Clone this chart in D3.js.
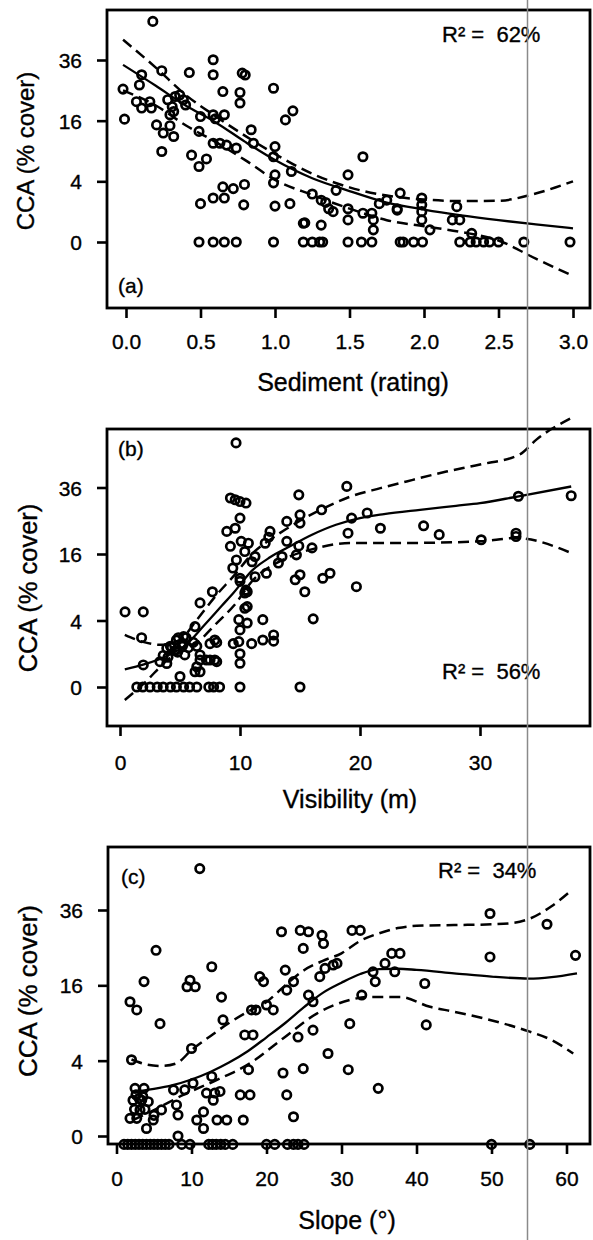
<!DOCTYPE html>
<html><head><meta charset="utf-8">
<script src="https://cdn.jsdelivr.net/npm/d3@7"></script>
<style>
html,body{margin:0;padding:0;background:#fff;}
svg{display:block;font-family:"Liberation Sans",Arial,Helvetica,sans-serif;}
text{white-space:pre;fill:#000;stroke:#000;stroke-width:0.35px;}
</style></head><body>
<svg id="chart" width="593" height="1240"></svg>
<script>
// ---------- DATA ----------
const yTickValues = [0, 4, 16, 36];          // CCA (% cover), square-root axis
const xTicksA = [0, 0.5, 1, 1.5, 2, 2.5, 3];
const xTicksB = [0, 10, 20, 30];
const xTicksC = [0, 10, 20, 30, 40, 50, 60];
const r2Labels = ["R\u00b2 =  62%", "R\u00b2 =  56%", "R\u00b2 =  34%"];
const panelLabels = ["(a)", "(b)", "(c)"];
const xTitles = ["Sediment (rating)", "Visibility (m)", "Slope (\u00b0)"];
const yTitle = "CCA (% cover)";

// Panel (a): sediment rating vs CCA % cover
const sedimentA = [0.18,-0.02,-0.01,0.09,0.105,0.24,0.07,0.105,0.16,0.17,0.205,0.25,0.24,0.295,0.32,0.28,0.31,0.33,0.36,0.385,0.295,0.32,0.4,0.425,0.5,0.49,0.44,0.49,0.54,0.5,0.585,0.585,0.65,0.585,0.6,0.66,0.585,0.63,0.675,0.74,0.585,0.66,0.65,0.72,0.795,0.79,0.78,0.8,0.765,0.765,0.84,0.855,0.99,1.0,0.99,1.0,0.99,1.0,1.1,1.07,1.12,1.11,1.25,1.19,1.2,1.31,1.34,1.31,1.36,1.39,1.41,1.49,1.49,1.49,1.59,1.59,1.66,1.66,1.65,1.70,1.75,1.82,1.84,1.82,1.985,1.985,1.985,1.985,2.04,2.22,2.19,2.24,2.32,
  0.49,0.585,0.66,0.74,0.99,1.19,1.25,1.30,1.32,1.49,1.58,1.65,1.84,1.86,1.93,1.99,2.24,2.31,2.35,2.40,2.44,2.50,2.67,2.98];
const coverA = [52.9,25.4,16.4,26.8,30.4,31.9,21.4,19.5,21.4,19.5,14.9,12.9,8.9,14.7,12.1,22,19.9,23,23.5,22,17.6,18.5,20.4,31.2,17.1,13.3,8.2,6.2,7.5,1.6,36.1,30.4,24.6,17.6,16.5,17.6,10.6,10.6,10.2,9.6,2.1,2.1,3.3,3.1,3.6,1.5,31,30.3,24.3,21,13.7,10.6,25.7,9.9,7.9,4.9,3.8,1.4,1.6,16.2,18.7,5.4,2.5,0.38,0.4,1.9,1.7,0.31,1.2,1.0,2.9,4.9,1.2,0.53,7.9,0.9,0.53,0.16,0.9,1.6,1.9,1.2,2.6,1.1,2.1,1.5,1.0,0.53,0.16,1.36,0.53,0.53,0.08,
  0,0,0,0,0,0,0,0,0,0,0,0,0,0,0,0,0,0,0,0,0,0,0,0];
// fitted curve and confidence band, in sqrt(% cover) units
const fitXA   = [-0.02,0.2,0.4,0.6,0.8,1.0,1.25,1.5,1.75,2.0,2.25,2.5,2.75,3.0];
const fitA    = [5.84,5.15,4.5,3.95,3.3,2.7,2.1,1.68,1.3,1.07,0.88,0.72,0.58,0.45];
const upperA  = [6.67,5.75,4.85,4.15,3.5,2.9,2.25,1.8,1.53,1.4,1.35,1.36,1.6,2.0];
const lowerA  = [5.0,4.5,3.85,3.3,2.7,2.05,1.55,1.1,0.72,0.52,0.33,0.05,-0.55,-1.12];

// Panel (b): visibility (m) vs CCA % cover
const visibilityB = [0.42,1.94,1.8,1.94,
  1.4,1.9,2.5,3.1,3.6,4.2,4.7,5.3,5.8,6.4,7.4,7.8,8.3,10,15,
  5.0,3.33,3.9,4.2,4.6,4.86,5.28,5.4,5.5,6.25,6.25,6.67,6.67,6.67,7.7,8.06,8.06,7.5,7.5,9.44,9.9,10,9.9,10,10,10.6,10.6,10.5,10,10.97,11.9,11.9,12.8,12.8,8.9,9.6,9.2,9.4,9.2,9.6,10,10.5,9.67,10,10.1,10.4,10.7,11.25,11,9.7,10,11.25,10.6,12.1,12.5,12.4,12.2,13.2,13.5,13.9,13.9,14.6,15,14.7,14.9,15,15,14.9,15.4,16,16.1,16.9,17.5,16.8,18.9,19,19.3,19.7,20.6,21.7,25.3,26.6,30.1,33,33,33.2,37.6,
  3.6,4.0,4.3,4.8,5.2,5.7,3.9,6.1,4.7,5.3,6.4,6.67,6.4,7.2,7.9,7.9,10.4,10.4];
const coverB = [5.1,5.1,2.2,0.44,
  0,0,0,0,0,0,0,0,0,0,0,0,0,0,0,
  0.1,0.58,1.36,1.5,1.2,2.2,1.7,0.93,2.2,3.3,0.21,0.66,0.21,6.4,8.2,1.8,0.58,1.7,0.66,1.7,4.1,2.95,1.86,1.0,0.51,3.7,5.85,8.5,10.1,1.7,4.1,2.0,2.45,1.9,21.9,22.8,17.9,12.8,32.3,31.7,31.1,30.6,53.9,25.8,19.2,16.6,18.7,15.4,14.2,14.6,10.7,11,8.2,18.7,21.9,20.3,11.7,13.9,15.4,19.2,24.8,10.4,11.4,15.8,18,26.8,24.3,33.4,8.2,17.5,4.2,10.7,11.7,28.4,36.4,21.4,25.8,9.1,27.4,22.8,23.5,21,19.6,21.4,20.5,32.9,33.1,
  0.9,0.8,1.4,1.1,1.5,1.4,0.5,1.8,2.0,2.3,1.5,0.93,0.37,0.66,0.66,2.0,8.0,5.6];
const fitXB   = [0.4,2,4,5.5,7,8.5,9.5,11,12.5,14,16,18,20,22,25,28,30,33,37.6];
const fitB    = [0.53,0.68,0.95,1.27,1.85,2.45,2.85,3.5,3.9,4.2,4.58,4.88,5.08,5.2,5.33,5.45,5.53,5.72,6.03];
const bandXBu = [0.4,2,3.3,5,6.4,8,9.5,11,13,15,17,19,21.7,24.4,27.2,30,33.3,34.7,37.6];
const upperB  = [1.57,1.35,1.27,1.42,2.02,2.75,3.35,4.0,4.55,5.0,5.38,5.7,5.98,6.23,6.48,6.69,6.99,7.44,8.09];
const bandXBl = [0.4,2,4,6.7,8,9.5,11,13.6,16.4,19.2,23.3,30,33,37.6];
const lowerB  = [-0.39,0.11,0.83,1.42,1.9,2.45,3.18,3.83,4.18,4.33,4.33,4.38,4.48,4.03];

// Panel (c): slope (degrees) vs CCA % cover
const slopeC = [11.1,1.8,2.7,3.67,5.27,5.8,2.0,2.47,3.67,3.36,4.24,3.13,2.7,4.0,4.9,6.0,7.6,8.0,8.2,9.1,10.2,10.0,9.4,10.5,9.8,12.7,14.0,14.2,12.7,12.0,13.1,13.8,12.9,11.6,13.4,14.7,16.9,10.7,11.6,16.5,17.8,17.6,17.1,18.2,18.0,18.6,19.1,19.6,20,20.9,22,22.5,22.7,23.6,24.5,25.6,24.9,22.2,22.7,23.6,24.2,24.9,25.6,26.2,26.2,27.4,27.6,27.1,27.8,28.9,29.4,28.2,30.9,31.1,31.4,32.5,32.7,34.2,34.5,34.9,35.8,36.7,37.8,37.1,49.8,49.8,57.4,61.2,41.1,41.3,
  2.2,2.6,3.0,3.5,2.4,3.8,5.0,1.8,8.2,
  1.0,1.5,2.0,2.5,3.0,3.5,4.0,4.5,5.0,5.5,6.0,6.5,7.0,8.7,9.8,12.3,12.8,13.3,13.9,14.5,15.5,20.0,21.1,22.8,23.6,24.2,25.0,50.0,55.1];
const coverC = [50.4,12.7,11.2,16.8,24.3,8.9,4.1,1.6,1.6,0.9,0.83,0.48,0.22,0.04,0.18,0.48,1.5,0.68,0.31,1.5,1.96,5.4,15.7,15.7,17.1,20.2,13.6,9.5,2.5,1.3,1.3,1.4,0.9,0.41,0.18,0.18,0.18,0.18,0.04,1.19,1.19,3.1,7.2,7.2,11.2,11.2,17.9,16.8,12.1,11.2,29.4,19.4,15,16.8,29.8,29.4,24.8,2.8,1.19,0.26,6.9,3.2,14,12.7,7.9,28.4,26.1,17.9,19.8,20.6,21,4.8,3.1,8.9,29.8,29.8,14,19,16.8,1.6,21,23.5,23.5,19,34.9,22.6,31.6,23,16.4,8.7,
  0.9,1.2,1.0,1.1,0.5,0.5,0.3,0.22,0,
  -0.05,-0.05,-0.05,-0.05,-0.05,-0.05,-0.05,-0.05,-0.05,-0.05,-0.05,-0.05,-0.05,-0.05,-0.05,-0.05,-0.05,-0.05,-0.05,-0.05,-0.05,-0.05,-0.05,-0.05,-0.05,-0.05,-0.05,-0.05,-0.05];
const fitXC   = [2.5,5,7.5,10,12.5,15,17.5,20,22.5,25,27.5,30,32.5,35,37.5,40,45,50,55,58,61.4];
const fitC    = [1.18,1.25,1.35,1.5,1.7,1.95,2.25,2.62,3.0,3.42,3.8,4.07,4.3,4.43,4.44,4.41,4.32,4.23,4.18,4.22,4.32];
const bandXCu = [2,4,6,8,10,12.5,15,17.5,20,22.5,25,27.5,30,32.5,35,37.5,40,45,50,53,55.1,58,60.7];
const upperC  = [2.03,1.9,1.86,1.93,2.28,2.65,3.0,3.3,3.56,4.0,4.4,4.65,4.85,5.18,5.38,5.52,5.58,5.6,5.62,5.66,5.77,6.1,6.53];
const bandXCl = [2.2,5.4,8.9,13.4,17.8,22.2,26.7,31.1,33.4,37.8,41.8,45,49.8,55.1,58,60.9];
const lowerC  = [0.42,0.73,1.09,1.49,1.93,2.59,3.25,3.61,3.69,3.69,3.43,3.3,3.08,2.77,2.55,2.19];

// ---------- LAYOUT ----------
const panels = [
  {x: sedimentA, y: coverA, xTicks: xTicksA, fmt: d3.format(".1f"),
   xd:[0,3], xr:[126,573], yr:[242,60], frame:{l:107,t:10,r:590,b:308},
   fit:[fitXA, fitA], up:[fitXA, upperA], lo:[fitXA, lowerA],
   tickBase:41, xTitle:{x:353,y:391}, yTitle:{x:34,y:151,fs:24},
   plab:{x:118,y:293}, r2:{x:442,y:42}},
  {x: visibilityB, y: coverB, xTicks: xTicksB, fmt: d3.format("d"),
   xd:[0,30], xr:[120,480], yr:[687,487.5], frame:{l:107,t:429,r:590,b:726},
   fit:[fitXB, fitB], up:[bandXBu, upperB], lo:[bandXBl, lowerB],
   tickBase:44, xTitle:{x:350,y:808}, yTitle:{x:37,y:588,fs:25.5},
   plab:{x:118,y:456}, r2:{x:442,y:679}},
  {x: slopeC, y: coverC, xTicks: xTicksC, fmt: d3.format("d"),
   xd:[0,60], xr:[116.5,566.5], yr:[1136,910], frame:{l:108,t:847,r:590,b:1144},
   fit:[fitXC, fitC], up:[bandXCu, upperC], lo:[bandXCl, lowerC],
   tickBase:42, xTitle:{x:347,y:1229}, yTitle:{x:37,y:991,fs:26},
   plab:{x:121,y:884}, r2:{x:438,y:878}}
];

const ssqrt = v => Math.sign(v) * Math.sqrt(Math.abs(v));
const svg = d3.select("#chart");

panels.forEach((p, i) => {
  const x = d3.scaleLinear().domain(p.xd).range(p.xr);
  const y = d3.scaleLinear().domain([0, 6]).range(p.yr);
  const g = svg.append("g");
  const f = p.frame;

  // y axis (ticks only)
  const ya = g.append("g").attr("transform", `translate(${f.l},0)`)
    .call(d3.axisLeft(y).tickValues(yTickValues.map(Math.sqrt))
      .tickFormat(d => String(Math.round(d * d))).tickSize(10).tickPadding(15));
  ya.select(".domain").remove();
  ya.selectAll("line").attr("stroke", "#000").attr("stroke-width", 2.6);
  ya.selectAll("text").attr("font-size", 21).attr("font-family", null).attr("dy", "0.36em");

  // x axis
  const xa = g.append("g").attr("transform", `translate(0,${f.b})`)
    .call(d3.axisBottom(x).tickValues(p.xTicks).tickFormat(p.fmt).tickSize(10));
  xa.select(".domain").remove();
  xa.selectAll("line").attr("stroke", "#000").attr("stroke-width", 2.6);
  xa.selectAll("text").attr("font-size", 21).attr("font-family", null)
    .attr("y", p.tickBase).attr("dy", 0);

  // frame
  g.append("rect").attr("x", f.l).attr("y", f.t)
    .attr("width", f.r - f.l).attr("height", f.b - f.t)
    .attr("fill", "none").attr("stroke", "#000").attr("stroke-width", 2.8);

  // points
  g.append("g").selectAll("circle").data(p.x.map((d, k) => [d, p.y[k]])).join("circle")
    .attr("cx", d => x(d[0])).attr("cy", d => y(ssqrt(d[1])))
    .attr("r", 4.2).attr("fill", "none").attr("stroke", "#000").attr("stroke-width", 2.7);

  // curves
  const line = d3.line().x(d => x(d[0])).y(d => y(d[1])).curve(d3.curveMonotoneX);
  const pairs = arr => arr[0].map((d, k) => [d, arr[1][k]]);
  g.append("path").attr("d", line(pairs(p.fit))).attr("fill", "none")
    .attr("stroke", "#000").attr("stroke-width", 2.3);
  [p.up, p.lo].forEach(b => {
    g.append("path").attr("d", line(pairs(b))).attr("fill", "none")
      .attr("stroke", "#000").attr("stroke-width", 2.5).attr("stroke-dasharray", "11,6");
  });

  // texts
  g.append("text").attr("x", p.xTitle.x).attr("y", p.xTitle.y)
    .attr("text-anchor", "middle").attr("font-size", 25).text(xTitles[i]);
  g.append("text").attr("transform", `translate(${p.yTitle.x},${p.yTitle.y}) rotate(-90)`)
    .attr("text-anchor", "middle").attr("font-size", p.yTitle.fs).text(yTitle);
  g.append("text").attr("x", p.plab.x).attr("y", p.plab.y)
    .attr("font-size", 21).text(panelLabels[i]);
  g.append("text").attr("x", p.r2.x).attr("y", p.r2.y)
    .attr("font-size", 22).text(r2Labels[i]);
});

// scanner artefact: thin grey vertical line
svg.append("line").attr("x1", 527.5).attr("x2", 527.5).attr("y1", 0).attr("y2", 1240)
  .attr("stroke", "#8a8a8a").attr("stroke-width", 1.5);
</script>
</body></html>
